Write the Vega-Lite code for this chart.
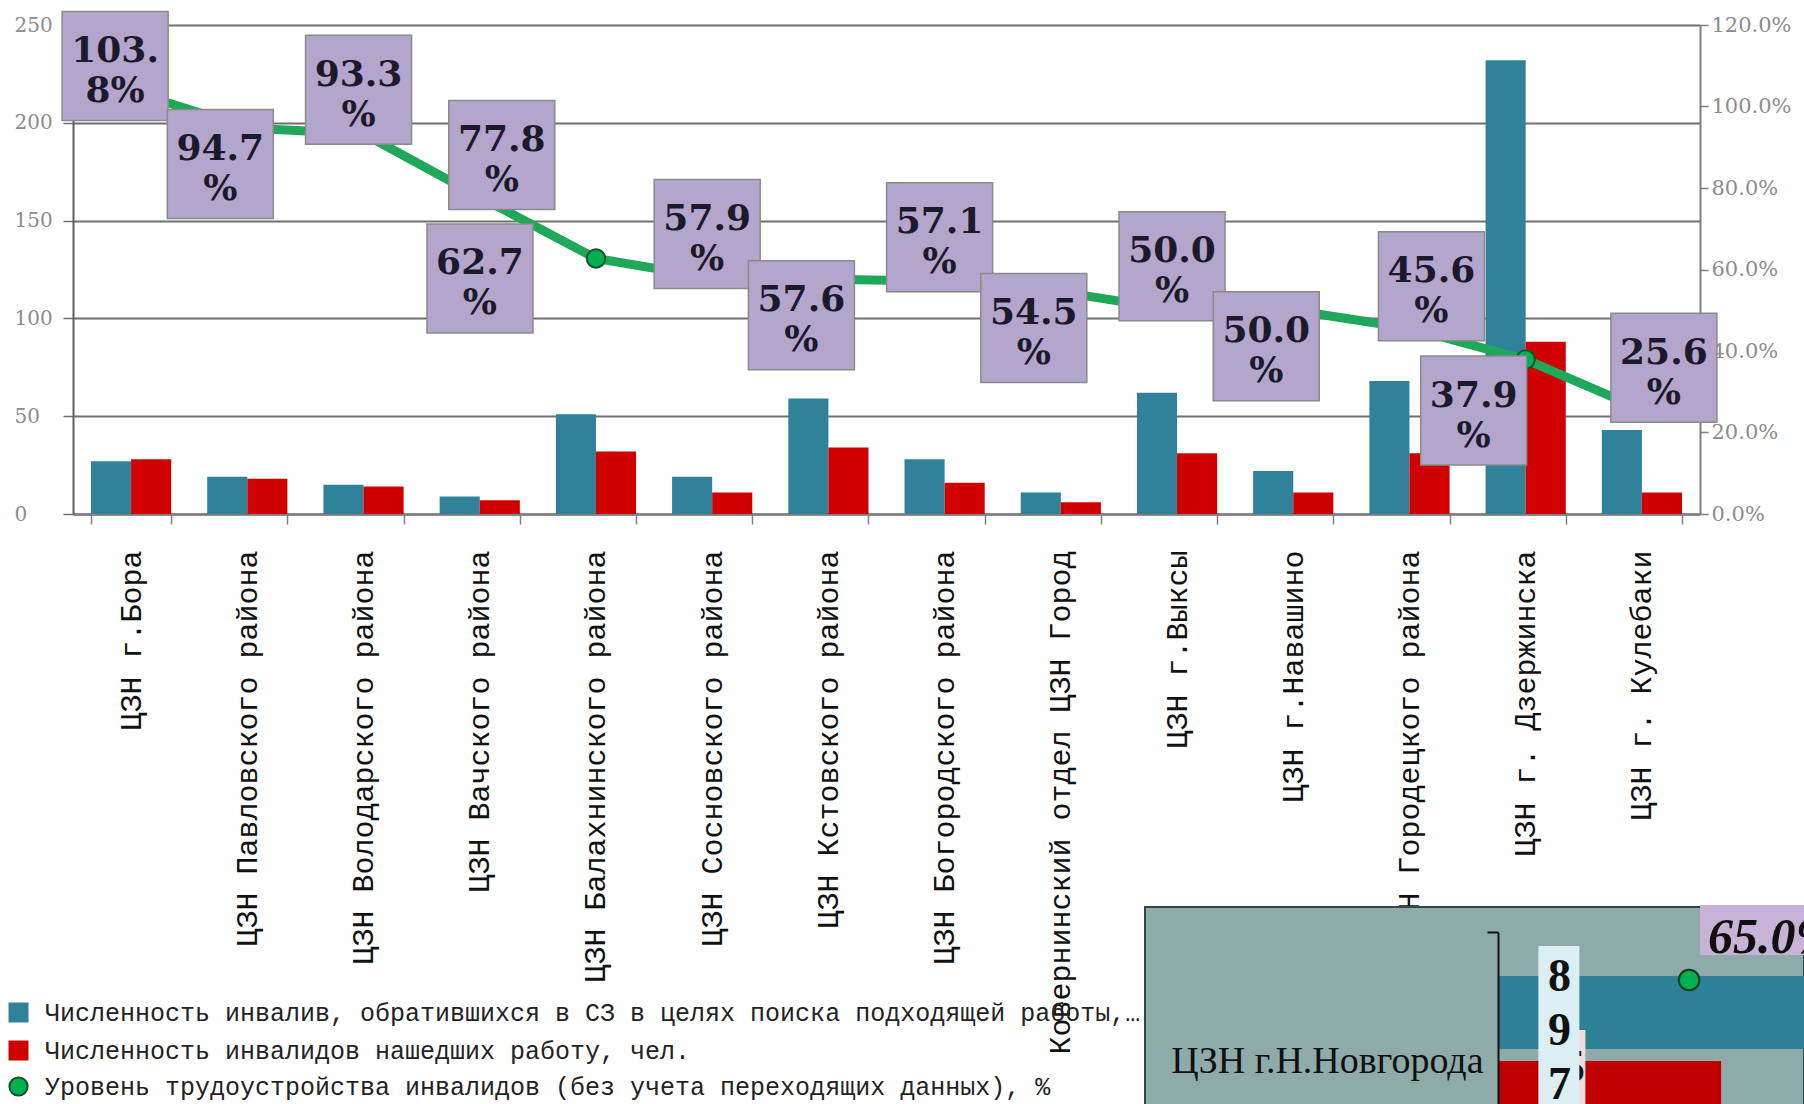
{
  "$schema": "https://vega.github.io/schema/vega-lite/v6.json",
  "width": 1627,
  "height": 489,
  "autosize": {"type": "none"},
  "padding": {"left": 73, "top": 25, "right": 104, "bottom": 590},
  "background": "#ffffff",
  "config": {"view": {"stroke": null}},
  "datasets": {
    "bars": [
      {"center": "ЦЗН г.Бора", "series": "Численность инвалив, обратившихся в СЗ в целях поиска подходящей работы, чел.", "value": 27},
      {"center": "ЦЗН г.Бора", "series": "Численность инвалидов нашедших работу, чел.", "value": 28},
      {"center": "ЦЗН Павловского района", "series": "Численность инвалив, обратившихся в СЗ в целях поиска подходящей работы, чел.", "value": 19},
      {"center": "ЦЗН Павловского района", "series": "Численность инвалидов нашедших работу, чел.", "value": 18},
      {"center": "ЦЗН Володарского района", "series": "Численность инвалив, обратившихся в СЗ в целях поиска подходящей работы, чел.", "value": 15},
      {"center": "ЦЗН Володарского района", "series": "Численность инвалидов нашедших работу, чел.", "value": 14},
      {"center": "ЦЗН Вачского района", "series": "Численность инвалив, обратившихся в СЗ в целях поиска подходящей работы, чел.", "value": 9},
      {"center": "ЦЗН Вачского района", "series": "Численность инвалидов нашедших работу, чел.", "value": 7},
      {"center": "ЦЗН Балахнинского района", "series": "Численность инвалив, обратившихся в СЗ в целях поиска подходящей работы, чел.", "value": 51},
      {"center": "ЦЗН Балахнинского района", "series": "Численность инвалидов нашедших работу, чел.", "value": 32},
      {"center": "ЦЗН Сосновского района", "series": "Численность инвалив, обратившихся в СЗ в целях поиска подходящей работы, чел.", "value": 19},
      {"center": "ЦЗН Сосновского района", "series": "Численность инвалидов нашедших работу, чел.", "value": 11},
      {"center": "ЦЗН Кстовского района", "series": "Численность инвалив, обратившихся в СЗ в целях поиска подходящей работы, чел.", "value": 59},
      {"center": "ЦЗН Кстовского района", "series": "Численность инвалидов нашедших работу, чел.", "value": 34},
      {"center": "ЦЗН Богородского района", "series": "Численность инвалив, обратившихся в СЗ в целях поиска подходящей работы, чел.", "value": 28},
      {"center": "ЦЗН Богородского района", "series": "Численность инвалидов нашедших работу, чел.", "value": 16},
      {"center": "Ковернинский отдел ЦЗН Город", "series": "Численность инвалив, обратившихся в СЗ в целях поиска подходящей работы, чел.", "value": 11},
      {"center": "Ковернинский отдел ЦЗН Город", "series": "Численность инвалидов нашедших работу, чел.", "value": 6},
      {"center": "ЦЗН г.Выксы", "series": "Численность инвалив, обратившихся в СЗ в целях поиска подходящей работы, чел.", "value": 62},
      {"center": "ЦЗН г.Выксы", "series": "Численность инвалидов нашедших работу, чел.", "value": 31},
      {"center": "ЦЗН г.Навашино", "series": "Численность инвалив, обратившихся в СЗ в целях поиска подходящей работы, чел.", "value": 22},
      {"center": "ЦЗН г.Навашино", "series": "Численность инвалидов нашедших работу, чел.", "value": 11},
      {"center": "ЦЗН Городецкого района", "series": "Численность инвалив, обратившихся в СЗ в целях поиска подходящей работы, чел.", "value": 68},
      {"center": "ЦЗН Городецкого района", "series": "Численность инвалидов нашедших работу, чел.", "value": 31},
      {"center": "ЦЗН г. Дзержинска", "series": "Численность инвалив, обратившихся в СЗ в целях поиска подходящей работы, чел.", "value": 232},
      {"center": "ЦЗН г. Дзержинска", "series": "Численность инвалидов нашедших работу, чел.", "value": 88},
      {"center": "ЦЗН г. Кулебаки", "series": "Численность инвалив, обратившихся в СЗ в целях поиска подходящей работы, чел.", "value": 43},
      {"center": "ЦЗН г. Кулебаки", "series": "Численность инвалидов нашедших работу, чел.", "value": 11}
    ],
    "rate": [
      {"center": "ЦЗН г.Бора", "series": "Уровень трудоустройства инвалидов (без учета переходящих данных), %", "rate": 1.038, "label": "103.\n8%", "pos": "aboveLeft"},
      {"center": "ЦЗН Павловского района", "series": "Уровень трудоустройства инвалидов (без учета переходящих данных), %", "rate": 0.947, "label": "94.7\n%", "pos": "below"},
      {"center": "ЦЗН Володарского района", "series": "Уровень трудоустройства инвалидов (без учета переходящих данных), %", "rate": 0.933, "label": "93.3\n%", "pos": "above"},
      {"center": "ЦЗН Вачского района", "series": "Уровень трудоустройства инвалидов (без учета переходящих данных), %", "rate": 0.778, "label": "77.8\n%", "pos": "aboveRight"},
      {"center": "ЦЗН Балахнинского района", "series": "Уровень трудоустройства инвалидов (без учета переходящих данных), %", "rate": 0.627, "label": "62.7\n%", "pos": "left"},
      {"center": "ЦЗН Сосновского района", "series": "Уровень трудоустройства инвалидов (без учета переходящих данных), %", "rate": 0.579, "label": "57.9\n%", "pos": "above"},
      {"center": "ЦЗН Кстовского района", "series": "Уровень трудоустройства инвалидов (без учета переходящих данных), %", "rate": 0.576, "label": "57.6\n%", "pos": "below"},
      {"center": "ЦЗН Богородского района", "series": "Уровень трудоустройства инвалидов (без учета переходящих данных), %", "rate": 0.571, "label": "57.1\n%", "pos": "above"},
      {"center": "Ковернинский отдел ЦЗН Город", "series": "Уровень трудоустройства инвалидов (без учета переходящих данных), %", "rate": 0.545, "label": "54.5\n%", "pos": "below"},
      {"center": "ЦЗН г.Выксы", "series": "Уровень трудоустройства инвалидов (без учета переходящих данных), %", "rate": 0.5, "label": "50.0\n%", "pos": "above"},
      {"center": "ЦЗН г.Навашино", "series": "Уровень трудоустройства инвалидов (без учета переходящих данных), %", "rate": 0.5, "label": "50.0\n%", "pos": "below"},
      {"center": "ЦЗН Городецкого района", "series": "Уровень трудоустройства инвалидов (без учета переходящих данных), %", "rate": 0.456, "label": "45.6\n%", "pos": "aboveRight"},
      {"center": "ЦЗН г. Дзержинска", "series": "Уровень трудоустройства инвалидов (без учета переходящих данных), %", "rate": 0.379, "label": "37.9\n%", "pos": "belowLeft"},
      {"center": "ЦЗН г. Кулебаки", "series": "Уровень трудоустройства инвалидов (без учета переходящих данных), %", "rate": 0.256, "label": "25.6\n%", "pos": "aboveRight"}
    ],
    "insetBars": [
      {"name": "ЦЗН г.Н.Новгорода", "series": "Численность инвалив, обратившихся в СЗ в целях поиска подходящей работы, чел.", "value": 897, "label": "8\n9\n7"},
      {"name": "ЦЗН г.Н.Новгорода", "series": "Численность инвалидов нашедших работу, чел.", "value": 583, "label": "5\n8\n3"}
    ],
    "insetRate": [
      {"name": "ЦЗН г.Н.Новгорода", "rate": 0.65, "label": "65.0%"}
    ]
  },
  "layer": [
    {
      "layer": [
        {
          "data": {"name": "bars"},
          "mark": {"type": "bar"},
          "encoding": {
            "x": {
              "field": "center", "type": "nominal",
              "scale": {"domain": ["ЦЗН г.Бора", "ЦЗН Павловского района", "ЦЗН Володарского района", "ЦЗН Вачского района", "ЦЗН Балахнинского района", "ЦЗН Сосновского района", "ЦЗН Кстовского района", "ЦЗН Богородского района", "Ковернинский отдел ЦЗН Город", "ЦЗН г.Выксы", "ЦЗН г.Навашино", "ЦЗН Городецкого района", "ЦЗН г. Дзержинска", "ЦЗН г. Кулебаки"], "paddingInner": 0.31, "paddingOuter": 0.155},
              "axis": {"title": null, "labelAngle": -90, "labelAlign": "right", "labelBaseline": "middle", "labelFont": "Liberation Mono", "labelFontSize": 30, "labelColor": "#111111", "labelLimit": 0, "labelPadding": 26, "labelOverlap": false, "tickBand": "extent", "tickSize": 10, "tickColor": "#7f7f7f", "tickWidth": 1.5, "domainColor": "#7f7f7f", "domainWidth": 2.5, "grid": false}
            },
            "xOffset": {"field": "series", "type": "nominal", "scale": {"domain": ["Численность инвалив, обратившихся в СЗ в целях поиска подходящей работы, чел.", "Численность инвалидов нашедших работу, чел."], "paddingInner": 0, "paddingOuter": 0}},
            "y": {
              "field": "value", "type": "quantitative",
              "scale": {"domain": [0, 250], "nice": false},
              "axis": {"orient": "left", "title": null, "values": [0, 50, 100, 150, 200, 250], "grid": true, "gridColor": "#707070", "gridWidth": 1.8, "domainColor": "#606060", "domainWidth": 2, "tickColor": "#707070", "tickSize": 10, "tickWidth": 1.5, "labelAlign": "left", "labelPadding": 49, "labelFont": "DejaVu Serif", "labelFontSize": 20, "labelColor": "#8c8c8c", "labelBaseline": "middle"}
            },
            "color": {
              "field": "series", "type": "nominal",
              "scale": {"domain": ["Численность инвалив, обратившихся в СЗ в целях поиска подходящей работы, чел.", "Численность инвалидов нашедших работу, чел."], "range": ["#30829b", "#d00000"]},
              "legend": {"title": null, "orient": "none", "legendX": -67, "legendY": 975, "direction": "vertical", "labelFont": "Liberation Mono", "labelFontSize": 25, "labelColor": "#222222", "labelLimit": 1100, "symbolType": "square", "symbolSize": 400, "symbolStrokeWidth": 0, "rowPadding": 12, "labelOffset": 14, "padding": 0}
            }
          }
        },
        {
          "data": {"name": "rate"},
          "encoding": {
            "x": {
              "field": "center", "type": "nominal",
              "scale": {"domain": ["ЦЗН г.Бора", "ЦЗН Павловского района", "ЦЗН Володарского района", "ЦЗН Вачского района", "ЦЗН Балахнинского района", "ЦЗН Сосновского района", "ЦЗН Кстовского района", "ЦЗН Богородского района", "Ковернинский отдел ЦЗН Город", "ЦЗН г.Выксы", "ЦЗН г.Навашино", "ЦЗН Городецкого района", "ЦЗН г. Дзержинска", "ЦЗН г. Кулебаки"], "paddingInner": 0.31, "paddingOuter": 0.155}
            },
            "y": {
              "field": "rate", "type": "quantitative",
              "scale": {"domain": [0, 1.2], "nice": false},
              "axis": {"orient": "right", "title": null, "format": ".1%", "values": [0, 0.2, 0.4, 0.6, 0.8, 1.0, 1.2], "grid": false, "domainColor": "#7f7f7f", "domainWidth": 2, "tickColor": "#7f7f7f", "tickSize": 8, "tickWidth": 1.5, "labelPadding": 3, "labelFont": "DejaVu Serif", "labelFontSize": 21, "labelColor": "#8c8c8c", "labelBaseline": "middle"}
            }
          },
          "layer": [
            {"mark": {"type": "line", "color": "#1fa85a", "strokeWidth": 9}},
            {
              "mark": {"type": "point", "shape": "circle", "filled": true, "size": 340, "stroke": "#14532d", "strokeWidth": 2, "opacity": 1},
              "encoding": {
                "fill": {"field": "series", "type": "nominal", "scale": {"domain": ["Уровень трудоустройства инвалидов (без учета переходящих данных), %"], "range": ["#00b050"]},
                  "legend": {"title": null, "orient": "none", "legendX": -67, "legendY": 1049, "direction": "vertical", "labelFont": "Liberation Mono", "labelFontSize": 25, "labelColor": "#222222", "labelLimit": 0, "symbolType": "circle", "symbolSize": 330, "symbolStrokeColor": "#14532d", "symbolStrokeWidth": 2, "labelOffset": 14, "padding": 0}}
              }
            },
            {
              "mark": {"type": "point", "filled": true, "size": 10000, "fill": "#b4a5cd", "stroke": "#8a8a8a", "strokeWidth": 1.5, "opacity": 1},
              "encoding": {
                "shape": {"field": "pos", "type": "nominal", "legend": null,
                  "scale": {"domain": ["above", "aboveLeft", "aboveRight", "below", "belowLeft", "left"],
                    "range": ["M -1.16 -1.97 L 0.96 -1.97 L 0.96 0.21 L -1.16 0.21 Z", "M -1.38 -1.59 L 0.74 -1.59 L 0.74 0.59 L -1.38 0.59 Z", "M -0.62 -1.93 L 1.5 -1.93 L 1.5 0.25 L -0.62 0.25 Z", "M -1.6 -0.37 L 0.52 -0.37 L 0.52 1.81 L -1.6 1.81 Z", "M -2.1 -0.07 L 0.02 -0.07 L 0.02 2.11 L -2.1 2.11 Z", "M -3.38 -0.69 L -1.26 -0.69 L -1.26 1.49 L -3.38 1.49 Z"]}}
              }
            },
            {"transform": [{"filter": "datum.pos === 'above'"}], "mark": {"type": "text", "font": "DejaVu Serif", "fontWeight": "bold", "fontSize": 36, "lineHeight": 40, "lineBreak": "\n", "align": "center", "baseline": "top", "color": "#1a1a2a", "dx": -5, "dy": -76}, "encoding": {"text": {"field": "label"}}},
            {"transform": [{"filter": "datum.pos === 'aboveLeft'"}], "mark": {"type": "text", "font": "DejaVu Serif", "fontWeight": "bold", "fontSize": 36, "lineHeight": 40, "lineBreak": "\n", "align": "center", "baseline": "top", "color": "#1a1a2a", "dx": -16, "dy": -57}, "encoding": {"text": {"field": "label"}}},
            {"transform": [{"filter": "datum.pos === 'aboveRight'"}], "mark": {"type": "text", "font": "DejaVu Serif", "fontWeight": "bold", "fontSize": 36, "lineHeight": 40, "lineBreak": "\n", "align": "center", "baseline": "top", "color": "#1a1a2a", "dx": 22, "dy": -74}, "encoding": {"text": {"field": "label"}}},
            {"transform": [{"filter": "datum.pos === 'below'"}], "mark": {"type": "text", "font": "DejaVu Serif", "fontWeight": "bold", "fontSize": 36, "lineHeight": 40, "lineBreak": "\n", "align": "center", "baseline": "top", "color": "#1a1a2a", "dx": -27, "dy": 4}, "encoding": {"text": {"field": "label"}}},
            {"transform": [{"filter": "datum.pos === 'belowLeft'"}], "mark": {"type": "text", "font": "DejaVu Serif", "fontWeight": "bold", "fontSize": 36, "lineHeight": 40, "lineBreak": "\n", "align": "center", "baseline": "top", "color": "#1a1a2a", "dx": -52, "dy": 19}, "encoding": {"text": {"field": "label"}}},
            {"transform": [{"filter": "datum.pos === 'left'"}], "mark": {"type": "text", "font": "DejaVu Serif", "fontWeight": "bold", "fontSize": 36, "lineHeight": 40, "lineBreak": "\n", "align": "center", "baseline": "top", "color": "#1a1a2a", "dx": -116, "dy": -12}, "encoding": {"text": {"field": "label"}}}
          ]
        }
      ],
      "resolve": {"scale": {"y": "independent"}}
    },
    {
      "layer": [
        {
          "data": {"name": "insetRate"},
          "mark": {"type": "rect", "fill": "#8eaaa9", "stroke": "#2c4a4a", "strokeWidth": 2},
          "encoding": {
            "x": {"datum": -925, "type": "quantitative", "scale": {"domain": [-925, 800], "range": [1072, 1731], "nice": false, "zero": false}, "axis": null},
            "x2": {"datum": 800},
            "y": {"field": "name", "type": "nominal", "scale": {"domain": ["ЦЗН г.Н.Новгорода"], "range": [882, 1110], "paddingInner": 0, "paddingOuter": 0}, "axis": null}
          }
        },
        {
          "data": {"name": "insetBars"},
          "transform": [{"filter": "indexof(datum.series, 'обратившихся') >= 0"}],
          "mark": {"type": "bar", "fill": "#2e8099"},
          "encoding": {
            "x": {"field": "value", "type": "quantitative", "scale": {"domain": [-925, 800], "range": [1072, 1731], "nice": false, "zero": false}, "axis": null},
            "y": {"field": "name", "type": "nominal", "scale": {"domain": ["ЦЗН г.Н.Новгорода"], "range": [907, 1165], "paddingInner": 0, "paddingOuter": 0},
              "axis": {"orient": "left", "offset": -1425, "title": null, "domainColor": "#111111", "domainWidth": 2, "tickBand": "extent", "tickSize": 11, "tickColor": "#111111", "tickWidth": 2, "labelFont": "Liberation Serif", "labelFontSize": 38, "labelColor": "#111111", "labelPadding": 4, "labelLimit": 0, "grid": false, "zindex": 2}},
            "yOffset": {"field": "series", "type": "nominal", "scale": {"domain": ["Численность инвалив, обратившихся в СЗ в целях поиска подходящей работы, чел.", "Численность инвалидов нашедших работу, чел."], "paddingInner": 0.141, "paddingOuter": 0.588, "align": 0.44}}
          }
        },
        {
          "data": {"name": "insetBars"},
          "transform": [{"filter": "indexof(datum.series, 'нашедших') >= 0"}],
          "mark": {"type": "bar", "fill": "#c00000"},
          "encoding": {
            "x": {"field": "value", "type": "quantitative", "scale": {"domain": [-925, 800], "range": [1072, 1731], "nice": false, "zero": false}, "axis": null},
            "y": {"field": "name", "type": "nominal", "scale": {"domain": ["ЦЗН г.Н.Новгорода"], "range": [907, 1165], "paddingInner": 0, "paddingOuter": 0}, "axis": null},
            "yOffset": {"field": "series", "type": "nominal", "scale": {"domain": ["Численность инвалив, обратившихся в СЗ в целях поиска подходящей работы, чел.", "Численность инвалидов нашедших работу, чел."], "paddingInner": 0.141, "paddingOuter": 0.588, "align": 0.44}}
          }
        },
        {
          "data": {"name": "insetBars"},
          "transform": [{"filter": "indexof(datum.series, 'нашедших') >= 0"}],
          "mark": {"type": "point", "filled": true, "size": 10000, "fill": "#f2dcdb", "strokeWidth": 0, "opacity": 1, "shape": "M 1.02 -1.35 L 1.74 -1.35 L 1.74 2.2 L 1.02 2.2 Z"},
          "encoding": {
            "x": {"datum": 0, "type": "quantitative", "scale": {"domain": [-925, 800], "range": [1072, 1731], "nice": false, "zero": false}, "axis": null},
            "y": {"field": "name", "type": "nominal", "scale": {"domain": ["ЦЗН г.Н.Новгорода"], "range": [907, 1165], "paddingInner": 0, "paddingOuter": 0}, "axis": null},
            "yOffset": {"field": "series", "type": "nominal", "scale": {"domain": ["Численность инвалив, обратившихся в СЗ в целях поиска подходящей работы, чел.", "Численность инвалидов нашедших работу, чел."], "paddingInner": 0.141, "paddingOuter": 0.588, "align": 0.44}}
          }
        },
        {
          "data": {"name": "insetBars"},
          "transform": [{"filter": "indexof(datum.series, 'нашедших') >= 0"}],
          "mark": {"type": "text", "font": "Liberation Serif", "fontWeight": "bold", "fontSize": 46, "lineHeight": 54, "lineBreak": "\n", "align": "center", "baseline": "top", "color": "#111111", "dx": 75, "dy": -52},
          "encoding": {
            "x": {"datum": 0, "type": "quantitative", "scale": {"domain": [-925, 800], "range": [1072, 1731], "nice": false, "zero": false}, "axis": null},
            "y": {"field": "name", "type": "nominal", "scale": {"domain": ["ЦЗН г.Н.Новгорода"], "range": [907, 1165], "paddingInner": 0, "paddingOuter": 0}, "axis": null},
            "yOffset": {"field": "series", "type": "nominal", "scale": {"domain": ["Численность инвалив, обратившихся в СЗ в целях поиска подходящей работы, чел.", "Численность инвалидов нашедших работу, чел."], "paddingInner": 0.141, "paddingOuter": 0.588, "align": 0.44}},
            "text": {"field": "label"}
          }
        },
        {
          "data": {"name": "insetBars"},
          "transform": [{"filter": "indexof(datum.series, 'обратившихся') >= 0"}],
          "mark": {"type": "point", "filled": true, "size": 10000, "fill": "#dbeef4", "strokeWidth": 0, "opacity": 1, "shape": "M 0.8 -1.33 L 1.62 -1.33 L 1.62 2.6 L 0.8 2.6 Z"},
          "encoding": {
            "x": {"datum": 0, "type": "quantitative", "scale": {"domain": [-925, 800], "range": [1072, 1731], "nice": false, "zero": false}, "axis": null},
            "y": {"field": "name", "type": "nominal", "scale": {"domain": ["ЦЗН г.Н.Новгорода"], "range": [907, 1165], "paddingInner": 0, "paddingOuter": 0}, "axis": null},
            "yOffset": {"field": "series", "type": "nominal", "scale": {"domain": ["Численность инвалив, обратившихся в СЗ в целях поиска подходящей работы, чел.", "Численность инвалидов нашедших работу, чел."], "paddingInner": 0.141, "paddingOuter": 0.588, "align": 0.44}}
          }
        },
        {
          "data": {"name": "insetBars"},
          "transform": [{"filter": "indexof(datum.series, 'обратившихся') >= 0"}],
          "mark": {"type": "text", "font": "Liberation Serif", "fontWeight": "bold", "fontSize": 46, "lineHeight": 54, "lineBreak": "\n", "align": "center", "baseline": "top", "color": "#111111", "dx": 61, "dy": -57},
          "encoding": {
            "x": {"datum": 0, "type": "quantitative", "scale": {"domain": [-925, 800], "range": [1072, 1731], "nice": false, "zero": false}, "axis": null},
            "y": {"field": "name", "type": "nominal", "scale": {"domain": ["ЦЗН г.Н.Новгорода"], "range": [907, 1165], "paddingInner": 0, "paddingOuter": 0}, "axis": null},
            "yOffset": {"field": "series", "type": "nominal", "scale": {"domain": ["Численность инвалив, обратившихся в СЗ в целях поиска подходящей работы, чел.", "Численность инвалидов нашедших работу, чел."], "paddingInner": 0.141, "paddingOuter": 0.588, "align": 0.44}},
            "text": {"field": "label"}
          }
        },
        {
          "data": {"name": "insetRate"},
          "mark": {"type": "point", "filled": true, "size": 10000, "fill": "#c8b3d6", "strokeWidth": 0, "opacity": 1, "shape": "M 0.22 -1.5 L 2.6 -1.5 L 2.6 -0.5 L 0.22 -0.5 Z"},
          "encoding": {
            "x": {"field": "rate", "type": "quantitative", "scale": {"domain": [0, 1], "range": [1425, 1719], "nice": false, "zero": false}, "axis": null},
            "y": {"field": "name", "type": "nominal", "scale": {"domain": ["ЦЗН г.Н.Новгорода"], "range": [826, 1084], "paddingInner": 0, "paddingOuter": 0}, "axis": null}
          }
        },
        {
          "data": {"name": "insetRate"},
          "mark": {"type": "point", "shape": "circle", "filled": true, "size": 420, "fill": "#00b050", "stroke": "#0d3b1c", "strokeWidth": 2, "opacity": 1},
          "encoding": {
            "x": {"field": "rate", "type": "quantitative", "scale": {"domain": [0, 1], "range": [1425, 1719], "nice": false, "zero": false}, "axis": null},
            "y": {"field": "name", "type": "nominal", "scale": {"domain": ["ЦЗН г.Н.Новгорода"], "range": [826, 1084], "paddingInner": 0, "paddingOuter": 0}, "axis": null}
          }
        },
        {
          "data": {"name": "insetRate"},
          "mark": {"type": "text", "font": "Liberation Serif", "fontWeight": "bold", "fontStyle": "italic", "fontSize": 50, "align": "left", "baseline": "middle", "color": "#111111", "dx": 19, "dy": -42},
          "encoding": {
            "x": {"field": "rate", "type": "quantitative", "scale": {"domain": [0, 1], "range": [1425, 1719], "nice": false, "zero": false}, "axis": null},
            "y": {"field": "name", "type": "nominal", "scale": {"domain": ["ЦЗН г.Н.Новгорода"], "range": [826, 1084], "paddingInner": 0, "paddingOuter": 0}, "axis": null},
            "text": {"field": "label"}
          }
        }
      ],
      "resolve": {"scale": {"x": "independent", "y": "independent"}}
    }
  ],
  "resolve": {"scale": {"x": "independent", "y": "independent"}}
}
